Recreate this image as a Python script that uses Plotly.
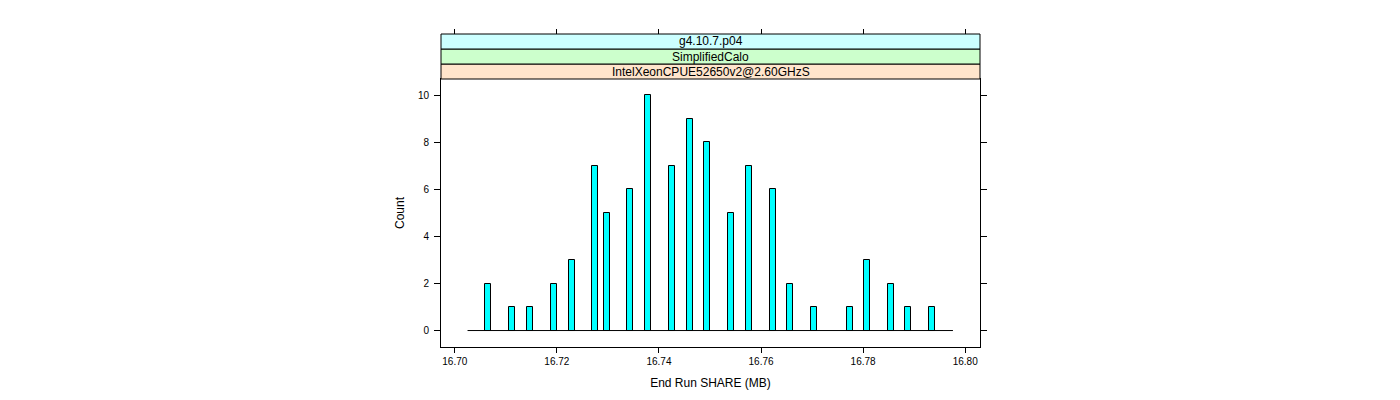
import plotly.graph_objects as go

# Data
share_mb = [16.70653, 16.71127, 16.71471, 16.71935, 16.72288, 16.72749, 16.72976,
            16.73437, 16.73794, 16.74259, 16.74602, 16.74947, 16.75418, 16.75761,
            16.76225, 16.76575, 16.77039, 16.77739, 16.78084, 16.78543, 16.78888,
            16.79359]
counts = [2, 1, 1, 2, 3, 7, 5, 6, 10, 7, 9, 8, 5, 7, 6, 2, 1, 1, 3, 2, 1, 1]
baseline_x = [16.7025, 16.7976]
baseline_y = [0, 0]
x_ticks = [16.70, 16.72, 16.74, 16.76, 16.78, 16.80]
x_tick_labels = ["16.70", "16.72", "16.74", "16.76", "16.78", "16.80"]
y_ticks = [0, 2, 4, 6, 8, 10]
strip_labels = ["IntelXeonCPUE52650v2@2.60GHzS", "SimplifiedCalo", "g4.10.7.p04"]
strip_colors = ["#FFE5CC", "#CCFFCC", "#CCFFFF"]

FONT = "Liberation Sans, Arial, Helvetica, sans-serif"
W, H = 1400, 400
# page body has an 8px offset
ML, MR, MT, MB = 433, 428, 26, 61
plot_h = H - MT - MB
panel_top_px = 71
panel_frac = (H - MB - panel_top_px) / plot_h

fig = go.Figure()
fig.add_trace(go.Scatter(x=baseline_x, y=baseline_y, mode="lines",
                         line=dict(color="black", width=1), showlegend=False,
                         hoverinfo="skip"))
fig.add_trace(go.Bar(x=share_mb, y=counts, width=0.00118,
                     marker=dict(color="#00FFFF", line=dict(color="black", width=1)),
                     showlegend=False))
# invisible trace for top axis
fig.add_trace(go.Scatter(x=[x_ticks[0]], y=[0], xaxis="x2", mode="markers",
                         marker=dict(opacity=0), showlegend=False, hoverinfo="skip"))

xr = [16.6973, 16.8029]
fig.update_layout(
    width=W, height=H,
    margin=dict(l=ML, r=MR, t=MT, b=MB, pad=0),
    paper_bgcolor="white", plot_bgcolor="white",
    font=dict(family=FONT, size=10, color="black"),
    bargap=0,
    xaxis=dict(range=xr, tickvals=x_ticks, ticktext=x_tick_labels,
               ticks="outside", ticklen=5, tickcolor="black",
               showline=True, linecolor="black", linewidth=1, mirror=True,
               showgrid=False, zeroline=False, automargin=False,
               title=dict(text="End Run SHARE (MB)", font=dict(size=12), standoff=12)),
    xaxis2=dict(range=xr, tickvals=x_ticks, overlaying="x", side="top",
                anchor="free", position=1.0, ticks="outside", ticklen=5,
                tickcolor="black", showticklabels=False, showline=False,
                showgrid=False, zeroline=False),
    yaxis=dict(range=[-0.7, 10.7], domain=[0, panel_frac], tickvals=y_ticks,
               ticks="outside", ticklen=6, tickcolor="black", ticklabelstandoff=3,
               showline=True, linecolor="black", linewidth=1, mirror="ticks",
               showgrid=False, zeroline=False, automargin=False,
               title=dict(text="Count", font=dict(size=12), standoff=10)),
)

strip_h = (1 - panel_frac) / 3
for i, (lab, col) in enumerate(zip(strip_labels, strip_colors)):
    y0 = panel_frac + i * strip_h
    y1 = y0 + strip_h
    fig.add_shape(type="rect", xref="paper", yref="paper", x0=0, x1=1, y0=y0, y1=y1,
                  fillcolor=col, line=dict(color="black", width=1), layer="above")
    fig.add_annotation(xref="paper", yref="paper", x=0.5, y=(y0 + y1) / 2,
                       text=lab, showarrow=False, font=dict(size=12, family=FONT),
                       xanchor="center", yanchor="middle")

fig.write_html("out.html")
